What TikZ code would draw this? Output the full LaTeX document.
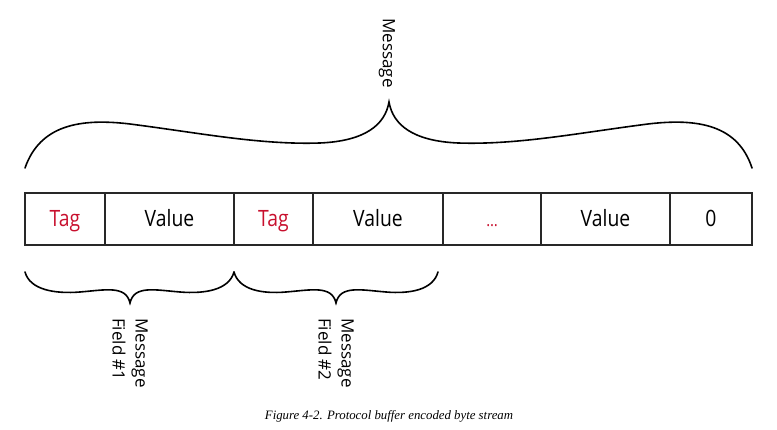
\documentclass[tikz,border=0pt]{standalone}
\usepackage{fontspec}
\setmainfont{Liberation Serif}
\newfontfamily\cellfont[FakeStretch=0.86]{Open Sans}
\newfontfamily\labelfont{Open Sans}
\usetikzlibrary{positioning}
\definecolor{tagred}{RGB}{200,16,46}
\definecolor{boxgray}{RGB}{40,40,40}
\tikzset{
  cell/.style={draw=boxgray,line width=1.2pt,minimum height=52pt,inner sep=0pt,outer sep=0pt,
    text height=16pt,text depth=0pt,font=\cellfont\fontsize{22.5}{26}\selectfont},
  tagcell/.style={cell,text=tagred},
  bracepath/.style={line width=1.6pt,line cap=round},
  bracelabel/.style={rotate=-90,anchor=west,align=left,inner sep=0pt,font=\labelfont\fontsize{17}{23}\selectfont}
}
\begin{document}
\begin{tikzpicture}[x=1pt,y=-1pt]
\useasboundingbox (0,0) rectangle (777,430);

% byte stream
\node[tagcell,minimum width=80pt,anchor=west] (tagA) at (25,219) {Tag};
\node[cell,minimum width=129pt,right=0pt of tagA] (valA) {Value};
\node[tagcell,minimum width=79pt,right=0pt of valA] (tagB) {Tag};
\node[cell,minimum width=130pt,right=0pt of tagB] (valB) {Value};
\node[tagcell,minimum width=98pt,right=0pt of valB,font=\cellfont\fontsize{17}{20}\selectfont] (dots) {…};
\node[cell,minimum width=129pt,right=0pt of dots] (valN) {Value};
\node[cell,minimum width=82pt,right=0pt of valN] (zero) {0};

% brace over the whole message
\coordinate (msgtip) at (389,102);
\draw[bracepath] (25,168) .. controls (40,125) and (80,118) .. (130,124)
  .. controls (200,133) and (260,145) .. (320,143)
  .. controls (365,141) and (385,125) .. (msgtip)
  .. controls (393,125) and (413,141) .. (458,143)
  .. controls (518,145) and (578,133) .. (648,124)
  .. controls (698,118) and (738,125) .. (752,168);
\node[bracelabel] (msg) at (387,18) {Message};

% braces under the fields
\coordinate (tipA) at (130,303);
\coordinate (tipB) at (336,303);
\draw[bracepath] (25,272) .. controls (30,290) and (55,294) .. (80,292)
  .. controls (105,290) and (126,285) .. (tipA)
  .. controls (134,285) and (155,290) .. (180,292)
  .. controls (205,294) and (229,290) .. (234,272);
\draw[bracepath] (234,272) .. controls (239,290) and (262,294) .. (286,292)
  .. controls (311,290) and (332,285) .. (tipB)
  .. controls (340,285) and (361,290) .. (386,292)
  .. controls (410,294) and (433,290) .. (438,272);
\node[bracelabel] (fieldA) at (130,318) {Message\\Field \#1};
\node[bracelabel] (fieldB) at (336,318) {Message\\Field \#2};

% caption
\node[font=\itshape\fontsize{12.8}{15}\selectfont] (caption) at (389,416) {Figure 4-2. Protocol buffer encoded byte stream};
\end{tikzpicture}
\end{document}
